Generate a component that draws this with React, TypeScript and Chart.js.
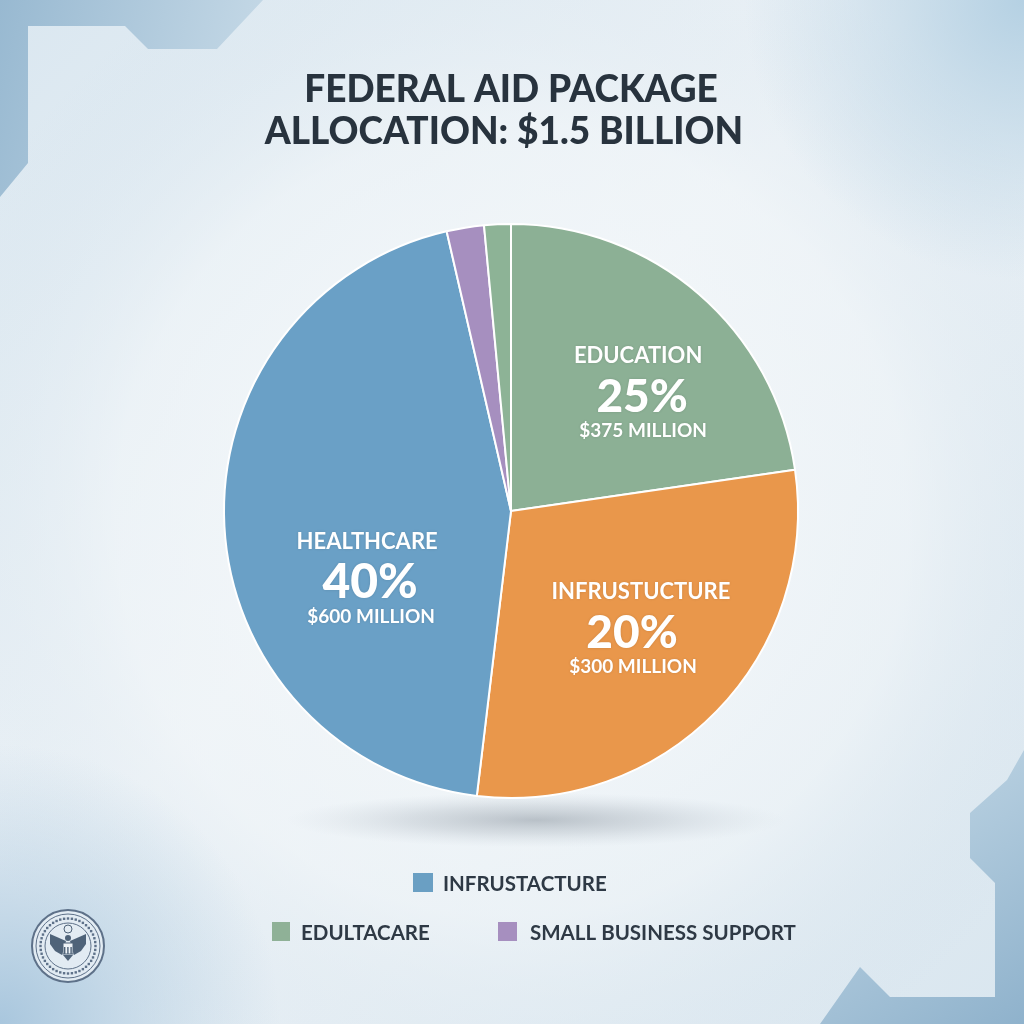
import React, { useEffect, useRef } from "react";
import { Chart, registerables } from "chart.js";

Chart.register(...registerables);

// ---- data ----
const titleLines = ["FEDERAL AID PACKAGE", "ALLOCATION: $1.5 BILLION"];
const categories = ["Education", "Infrastructure", "Healthcare", "Small Business Support", "Other"];
const shareValues = [22.7, 29.2, 44.5, 2.1, 1.5];
const sliceNames = ["EDUCATION", "INFRUSTUCTURE", "HEALTHCARE", "", ""];
const slicePercents = ["25%", "20%", "40%", "", ""];
const sliceAmounts = ["$375 MILLION", "$300 MILLION", "$600 MILLION", "", ""];
const legendLabels = ["INFRUSTACTURE", "EDULTACARE", "SMALL BUSINESS SUPPORT"];

// ---- styles ----
const sliceColors = ["#8cb095", "#e9974b", "#6aa0c6", "#a68fbf", "#8db396"];
const legendColors = ["#6a9fc3", "#8fb197", "#a68fbf"];
// label anchor: [angle deg clockwise from 12 o'clock, fraction of radius]
const labelAnchors: Array<[number, number] | null> = [[48.5, 0.61], [134.8, 0.594], [243.6, 0.548], null, null];
// horizontal nudges of the name line relative to the percent line
const nameNudges = [-4, 9, -3, 0, 0];
const percentSizes = [46, 46, 48, 0, 0];
// legend layout: [squareX, squareY, squareW, squareH, textX, textMidY]
const legendLayout: Array<[number, number, number, number, number, number]> = [
  [413, 873, 20, 19, 443, 883],
  [272, 922, 18, 19, 301, 932],
  [498, 922, 19, 19, 530, 932],
];

const FONT = "Lato, 'Open Sans', 'DejaVu Sans', sans-serif";

function drawBackground(ctx: CanvasRenderingContext2D, w: number, h: number) {
  const g = ctx.createLinearGradient(0, 0, w, h);
  g.addColorStop(0, "#dae7f0");
  g.addColorStop(0.45, "#eef3f7");
  g.addColorStop(1, "#d9e6ef");
  ctx.fillStyle = g;
  ctx.fillRect(0, 0, w, h);
  const r = ctx.createRadialGradient(512, 520, 60, 512, 520, 620);
  r.addColorStop(0, "rgba(246,249,251,0.95)");
  r.addColorStop(0.6, "rgba(240,245,248,0.6)");
  r.addColorStop(1, "rgba(205,222,234,0)");
  ctx.fillStyle = r;
  ctx.fillRect(0, 0, w, h);
  const tr = ctx.createRadialGradient(1024, 0, 0, 1024, 0, 280);
  tr.addColorStop(0, "rgba(178,207,226,0.95)");
  tr.addColorStop(1, "rgba(178,207,226,0)");
  ctx.fillStyle = tr;
  ctx.fillRect(700, 0, 324, 320);
  const bl = ctx.createRadialGradient(0, 1024, 0, 0, 1024, 280);
  bl.addColorStop(0, "rgba(165,196,220,0.95)");
  bl.addColorStop(1, "rgba(170,200,222,0)");
  ctx.fillStyle = bl;
  ctx.fillRect(0, 740, 300, 284);

  // top-left frame
  const tl = ctx.createLinearGradient(0, 0, 260, 60);
  tl.addColorStop(0, "#98b9d1");
  tl.addColorStop(1, "#c4d8e6");
  ctx.fillStyle = tl;
  ctx.beginPath();
  ctx.moveTo(0, 0);
  ctx.lineTo(263, 0);
  ctx.lineTo(217, 49);
  ctx.lineTo(148, 49);
  ctx.lineTo(125, 26);
  ctx.lineTo(28, 26);
  ctx.lineTo(28, 163);
  ctx.lineTo(0, 197);
  ctx.closePath();
  ctx.fill();

  // bottom-right frame
  const brg = ctx.createLinearGradient(1024, 1024, 850, 760);
  brg.addColorStop(0, "#8fb2cc");
  brg.addColorStop(1, "#c3d8e6");
  ctx.fillStyle = brg;
  ctx.beginPath();
  ctx.moveTo(1024, 1024);
  ctx.lineTo(1024, 750);
  ctx.lineTo(1007, 780);
  ctx.lineTo(970, 813);
  ctx.lineTo(970, 858);
  ctx.lineTo(995, 883);
  ctx.lineTo(995, 997);
  ctx.lineTo(890, 997);
  ctx.lineTo(860, 967);
  ctx.lineTo(820, 1024);
  ctx.closePath();
  ctx.fill();
}

function drawSeal(ctx: CanvasRenderingContext2D, cx: number, cy: number, rad: number) {
  ctx.save();
  ctx.fillStyle = "rgba(232,239,245,0.85)";
  ctx.beginPath();
  ctx.arc(cx, cy, rad, 0, Math.PI * 2);
  ctx.fill();
  ctx.strokeStyle = "#5e7189";
  ctx.lineWidth = 2;
  ctx.stroke();
  ctx.lineWidth = 1;
  ctx.beginPath();
  ctx.arc(cx, cy, rad - 4, 0, Math.PI * 2);
  ctx.stroke();
  ctx.beginPath();
  ctx.arc(cx, cy, rad - 13, 0, Math.PI * 2);
  ctx.stroke();
  ctx.fillStyle = "#5e7189";
  for (let i = 0; i < 44; i++) {
    const a = (i / 44) * Math.PI * 2;
    const x = cx + Math.cos(a) * (rad - 8.5);
    const y = cy + Math.sin(a) * (rad - 8.5);
    ctx.fillRect(x - 1.2, y - 1.2, 2.4, 2.4);
  }
  ctx.fillStyle = "#4f6379";
  // wings
  ctx.beginPath();
  ctx.moveTo(cx - 2, cy - 5);
  ctx.lineTo(cx - 18, cy - 12);
  ctx.lineTo(cx - 18, cy - 2);
  ctx.lineTo(cx - 13, cy + 5);
  ctx.lineTo(cx - 6, cy + 9);
  ctx.closePath();
  ctx.fill();
  ctx.beginPath();
  ctx.moveTo(cx + 2, cy - 5);
  ctx.lineTo(cx + 18, cy - 12);
  ctx.lineTo(cx + 18, cy - 2);
  ctx.lineTo(cx + 13, cy + 5);
  ctx.lineTo(cx + 6, cy + 9);
  ctx.closePath();
  ctx.fill();
  // tail
  ctx.beginPath();
  ctx.moveTo(cx - 5, cy + 9);
  ctx.lineTo(cx + 5, cy + 9);
  ctx.lineTo(cx, cy + 15);
  ctx.closePath();
  ctx.fill();
  ctx.beginPath();
  ctx.arc(cx, cy - 8, 3, 0, Math.PI * 2);
  ctx.fill();
  ctx.fillStyle = "#eef3f7";
  ctx.fillRect(cx - 5, cy - 3, 10, 11);
  ctx.strokeStyle = "#4f6379";
  ctx.strokeRect(cx - 5, cy - 3, 10, 11);
  ctx.fillStyle = "#4f6379";
  for (let i = 0; i < 3; i++) ctx.fillRect(cx - 4 + i * 3.2, cy + 1, 1.4, 7);
  ctx.beginPath();
  ctx.arc(cx, cy - 17, 4, 0, Math.PI * 2);
  ctx.stroke();
  ctx.restore();
}

const backgroundPlugin = {
  id: "bgDecor",
  beforeDraw(chart: any) {
    const ctx = chart.ctx as CanvasRenderingContext2D;
    ctx.save();
    drawBackground(ctx, chart.width, chart.height);
    drawSeal(ctx, 68, 946, 36);
    ctx.fillStyle = "#28333e";
    ctx.textAlign = "center";
    ctx.textBaseline = "alphabetic";
    ctx.font = `900 37px ${FONT}`;
    ctx.fillText(titleLines[0], 511, 102);
    ctx.fillText(titleLines[1], 504, 144);
    ctx.restore();
  },
  beforeDatasetsDraw(chart: any) {
    const ctx = chart.ctx as CanvasRenderingContext2D;
    const arc = chart.getDatasetMeta(0).data[0];
    if (!arc) return;
    const { x, y, outerRadius } = arc.getProps(["x", "y", "outerRadius"], true);
    ctx.save();
    ctx.translate(x + 25, y + outerRadius + 22);
    ctx.scale(1, 0.11);
    const sg = ctx.createRadialGradient(0, 0, 0, 0, 0, 250);
    sg.addColorStop(0, "rgba(140,150,160,0.55)");
    sg.addColorStop(0.5, "rgba(160,170,180,0.3)");
    sg.addColorStop(1, "rgba(190,200,210,0)");
    ctx.fillStyle = sg;
    ctx.beginPath();
    ctx.arc(0, 0, 250, 0, Math.PI * 2);
    ctx.fill();
    ctx.restore();
  },
  afterDatasetsDraw(chart: any) {
    const ctx = chart.ctx as CanvasRenderingContext2D;
    const meta = chart.getDatasetMeta(0);
    ctx.save();
    ctx.fillStyle = "#ffffff";
    ctx.textAlign = "center";
    ctx.textBaseline = "alphabetic";
    meta.data.forEach((el: any, i: number) => {
      const anchor = labelAnchors[i];
      if (!anchor || !sliceNames[i]) return;
      const { x, y, outerRadius } = el.getProps(["x", "y", "outerRadius"], true);
      const a = (anchor[0] * Math.PI) / 180;
      const px = x + Math.sin(a) * anchor[1] * outerRadius;
      const py = y - Math.cos(a) * anchor[1] * outerRadius;
      ctx.shadowColor = "rgba(0,0,0,0.12)";
      ctx.shadowBlur = 3;
      ctx.font = `bold 22px ${FONT}`;
      ctx.fillText(sliceNames[i], px + nameNudges[i], py - 40 + 8);
      ctx.font = `900 ${percentSizes[i]}px ${FONT}`;
      ctx.fillText(slicePercents[i], px, py + percentSizes[i] * 0.36);
      ctx.font = `bold 19px ${FONT}`;
      ctx.fillText(sliceAmounts[i], px + 1, py + 35 + 7);
    });
    ctx.restore();
  },
  afterDraw(chart: any) {
    const ctx = chart.ctx as CanvasRenderingContext2D;
    ctx.save();
    ctx.textAlign = "left";
    ctx.textBaseline = "alphabetic";
    ctx.font = `bold 20.5px ${FONT}`;
    legendLabels.forEach((label, i) => {
      const [sx, sy, sw, sh, tx, ty] = legendLayout[i];
      ctx.fillStyle = legendColors[i];
      ctx.fillRect(sx, sy, sw, sh);
      ctx.fillStyle = "#2e3945";
      ctx.fillText(label, tx, ty + 7.5);
    });
    ctx.restore();
  },
};

export default function App() {
  const canvasRef = useRef<HTMLCanvasElement | null>(null);
  useEffect(() => {
    const canvas = canvasRef.current;
    if (!canvas) return;
    const chart = new Chart(canvas, {
      type: "pie",
      data: {
        labels: categories,
        datasets: [
          {
            data: shareValues,
            backgroundColor: sliceColors,
            borderColor: "#ffffff",
            borderWidth: 2,
          },
        ],
      },
      options: {
        responsive: false,
        animation: false,
        events: [],
        layout: { padding: { left: 223, right: 225, top: 223, bottom: 225 } },
        plugins: {
          legend: { display: false },
          tooltip: { enabled: false },
          title: { display: false },
        },
      },
      plugins: [backgroundPlugin],
    });
    return () => chart.destroy();
  }, []);
  return (
    <div style={{ position: "absolute", left: 0, top: 0, width: 1024, height: 1024 }}>
      <canvas ref={canvasRef} width={1024} height={1024} style={{ display: "block", width: 1024, height: 1024 }} />
    </div>
  );
}
